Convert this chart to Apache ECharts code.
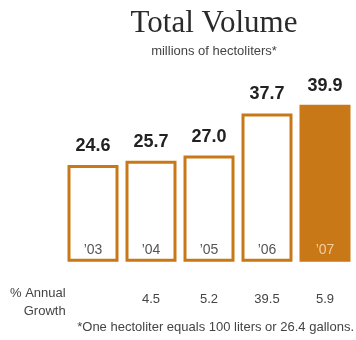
<!DOCTYPE html>
<html>
<head>
<meta charset="utf-8">
<script src="https://cdn.jsdelivr.net/npm/echarts@6/dist/echarts.min.js"></script>
<style>
html,body{margin:0;padding:0;background:#fff;}
#chart{width:356px;height:340px;}
</style>
</head>
<body>
<div id="chart"></div>
<script>
var categories = ["\u201903", "\u201904", "\u201905", "\u201906", "\u201907"];
var volumes = [24.6, 25.7, 27.0, 37.7, 39.9];
var growth = ["", "4.5", "5.2", "39.5", "5.9"];
var titleText = "Total Volume";
var subtitleText = "millions of hectoliters*";
var growthLabel = "% Annual\nGrowth";
var footnote = "*One hectoliter equals 100 liters or 26.4 gallons.";

var ORANGE = "#C97818";
var chart = echarts.init(document.getElementById("chart"), null, {renderer: "canvas"});

var barData = volumes.map(function (v, i) {
  var last = i === volumes.length - 1;
  return {
    value: v,
    itemStyle: {color: last ? ORANGE : "#ffffff", borderColor: ORANGE, borderWidth: 3}
  };
});
var catData = categories.map(function (c, i) {
  var last = i === categories.length - 1;
  return {value: c, textStyle: {color: last ? "#F3CF9E" : "#555555"}};
});

chart.setOption({
  animation: false,
  title: [{
    text: titleText,
    left: 209, top: 3, textAlign: "center",
    textStyle: {fontFamily: "Liberation Serif", fontWeight: "normal", fontSize: 31, color: "#2a2a2a"}
  }, {
    text: subtitleText,
    left: 209, top: 40, textAlign: "center",
    textStyle: {fontFamily: "Liberation Sans", fontWeight: "normal", fontSize: 13, color: "#444"}
  }],
  grid: {left: 64, right: 2, top: 84.7, bottom: 78.2},
  xAxis: [{
    type: "category",
    data: catData,
    z: 10,
    axisLine: {show: false},
    axisTick: {show: false},
    axisLabel: {inside: true, margin: 5, fontFamily: "Liberation Sans", fontSize: 14, verticalAlign: "bottom"}
  }, {
    type: "category",
    position: "bottom",
    data: growth,
    axisLine: {show: false},
    axisTick: {show: false},
    axisLabel: {margin: 31, fontFamily: "Liberation Sans", fontSize: 13, color: "#444"}
  }],
  yAxis: {
    type: "value", min: 0, max: 45, show: false, splitLine: {show: false}
  },
  series: [{
    type: "bar",
    data: barData,
    barWidth: 51,
    label: {
      show: true, position: "top", distance: 10,
      formatter: function (p) { return p.value.toFixed(1); },
      fontFamily: "Liberation Sans", fontWeight: "bold", fontSize: 18, color: "#222"
    }
  }],
  graphic: [{
    type: "text",
    left: 10, top: 284,
    style: {text: growthLabel, font: "13px Liberation Sans", fill: "#444", lineHeight: 18, textAlign: "right"}
  }, {
    type: "text",
    right: 2, top: 321,
    style: {text: footnote, font: "13px Liberation Sans", fill: "#444"}
  }]
});
</script>
</body>
</html>
